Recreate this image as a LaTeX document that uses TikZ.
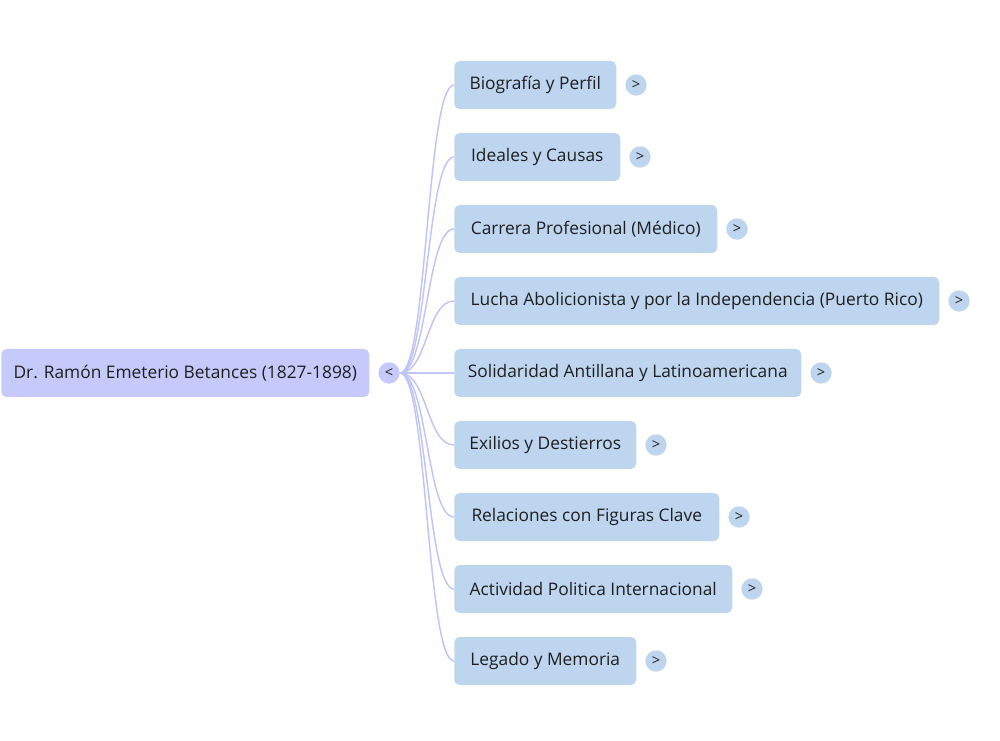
\documentclass[tikz,border=0pt]{standalone}
\usepackage{fontspec}
\setmainfont{Open Sans}
\usetikzlibrary{calc,backgrounds}
\definecolor{rootfill}{RGB}{197,202,250}
\definecolor{childfill}{RGB}{189,213,238}
\definecolor{linkcol}{RGB}{192,196,246}
\definecolor{txt}{RGB}{31,31,31}
\tikzset{
  rootbox/.style={fill=rootfill, rounded corners=4pt, minimum height=36pt, inner xsep=0pt, text=txt, font=\fontsize{13}{15}\selectfont, anchor=west},
  childbox/.style={fill=childfill, rounded corners=4pt, minimum height=36pt, inner xsep=0pt, text=txt, font=\fontsize{13}{15}\selectfont, anchor=west},
  roottog/.style={circle, fill=rootfill, minimum size=16pt, inner sep=0pt, text=txt, font=\fontsize{11}{12}\selectfont},
  childtog/.style={circle, fill=childfill, minimum size=16pt, inner sep=0pt, text=txt, font=\fontsize{11}{12}\selectfont},
  link/.style={draw=linkcol, line width=1.1pt},
}
\begin{document}
\begin{tikzpicture}[x=0.75pt,y=-0.75pt]
\useasboundingbox (0,0) rectangle (1000,741);
\node[rootbox, minimum width=276pt] (root) at (1,373) {Dr. Ramón Emeterio Betances (1827-1898)};
\node[roottog] (rt) at (389,373) {<};
\node[childbox, minimum width=121.5pt] (c1) at (454,85) {Biografía y Perfil};
\node[childbox, minimum width=124.5pt] (c2) at (454,157) {Ideales y Causas};
\node[childbox, minimum width=197.25pt] (c3) at (454,229) {Carrera Profesional (Médico)};
\node[childbox, minimum width=363.75pt] (c4) at (454,301) {Lucha Abolicionista y por la Independencia (Puerto Rico)};
\node[childbox, minimum width=260.25pt] (c5) at (454,373) {Solidaridad Antillana y Latinoamericana};
\node[childbox, minimum width=136.5pt] (c6) at (454,445) {Exilios y Destierros};
\node[childbox, minimum width=198.75pt] (c7) at (454,517) {Relaciones con Figuras Clave};
\node[childbox, minimum width=208.5pt] (c8) at (454,589) {Actividad Politica Internacional};
\node[childbox, minimum width=136.5pt] (c9) at (454,661) {Legado y Memoria};
\foreach \i in {1,...,9}{
  \node[childtog] (t\i) at ($(c\i.east)+(19.5,0)$) {>};
}
\begin{scope}[on background layer]
\foreach \i in {1,...,9}{
  \draw[link] (rt.east) .. controls ($(rt.east)+(27.5,0)$) and ($(c\i.west)+(-27.5,0)$) .. (c\i.west);
}
\end{scope}
\end{tikzpicture}
\end{document}
